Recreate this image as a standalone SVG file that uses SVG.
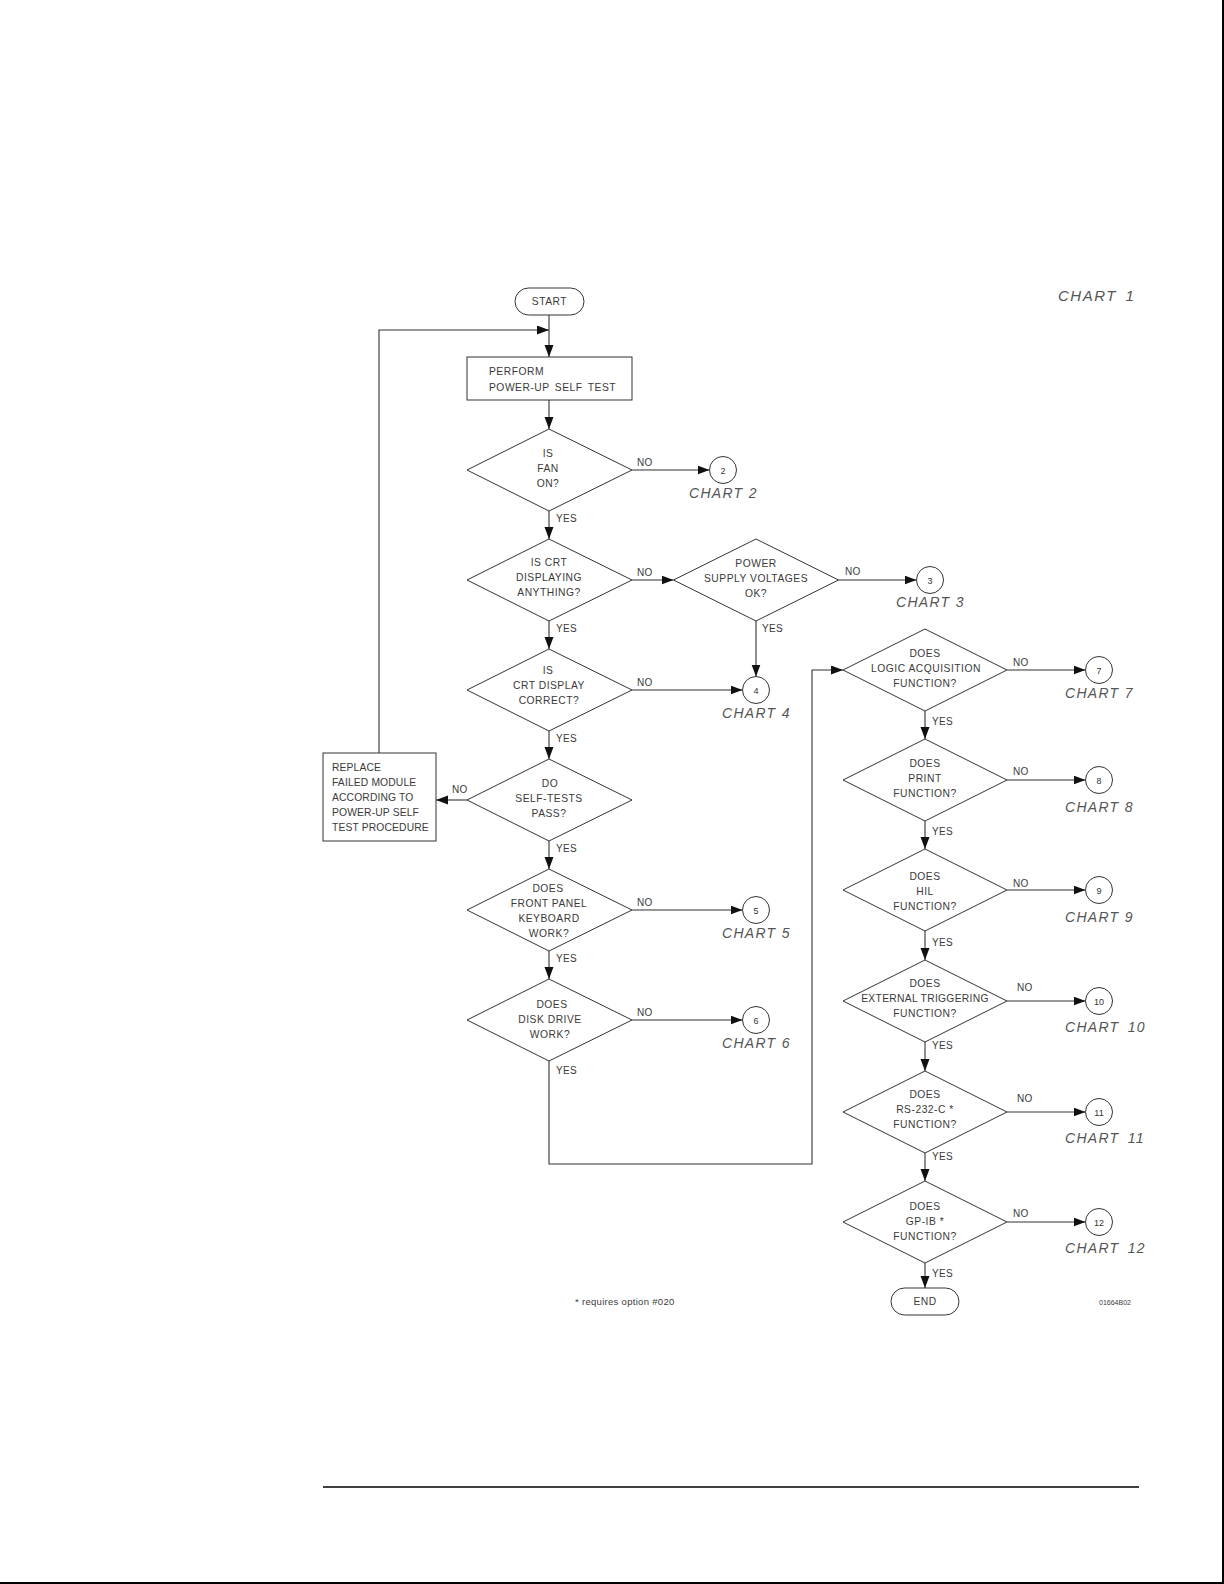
<svg xmlns="http://www.w3.org/2000/svg" width="1224" height="1584" viewBox="0 0 1224 1584">
<style>
.shape{fill:#fff;stroke:#333;stroke-width:1}
.ln{fill:none;stroke:#333;stroke-width:1.1}
.t{font-family:"Liberation Sans",Arial,sans-serif;font-size:10.3px;fill:#3a3a3a;letter-spacing:0.5px}
.c{text-anchor:middle}
.bx{letter-spacing:0.15px}
.lbl{font-family:"Liberation Sans",Arial,sans-serif;font-size:10px;fill:#3a3a3a;letter-spacing:0.3px}
.ch{font-family:"Liberation Sans",Arial,sans-serif;font-size:14px;font-style:italic;fill:#555;letter-spacing:1.3px}
.num{font-family:"Liberation Sans",Arial,sans-serif;font-size:9px;fill:#333;text-anchor:middle}
</style>
<defs>
<marker id="ah" markerUnits="userSpaceOnUse" markerWidth="13" markerHeight="10" refX="12" refY="4.5" orient="auto">
<path d="M0,0 L12,4.5 L0,9 z" fill="#111"/>
</marker>
</defs>
<rect width="1224" height="1584" fill="#fff"/>
<line x1="1223" y1="0" x2="1223" y2="1583" stroke="#000" stroke-width="2"/>
<line x1="0" y1="1583" x2="1224" y2="1583" stroke="#000" stroke-width="2"/>
<line x1="323" y1="1487" x2="1139" y2="1487" stroke="#000" stroke-width="1.5"/>

<g id="connectors">
<path class="ln" d="M549,315 V357" marker-end="url(#ah)"/>
<path class="ln" d="M379,753 V330 H549" marker-end="url(#ah)"/>
<path class="ln" d="M549,400 V429" marker-end="url(#ah)"/>
<path class="ln" d="M632,470 H709.5" marker-end="url(#ah)"/>
<path class="ln" d="M549,511 V539" marker-end="url(#ah)"/>
<path class="ln" d="M632,580 H673.5" marker-end="url(#ah)"/>
<path class="ln" d="M838.5,580 H916.5" marker-end="url(#ah)"/>
<path class="ln" d="M756,621 V676.5" marker-end="url(#ah)"/>
<path class="ln" d="M549,621 V649" marker-end="url(#ah)"/>
<path class="ln" d="M632,690 H742.5" marker-end="url(#ah)"/>
<path class="ln" d="M549,731 V759" marker-end="url(#ah)"/>
<path class="ln" d="M467,800 H436" marker-end="url(#ah)"/>
<path class="ln" d="M549,841 V869" marker-end="url(#ah)"/>
<path class="ln" d="M632,910 H742.5" marker-end="url(#ah)"/>
<path class="ln" d="M549,951 V979" marker-end="url(#ah)"/>
<path class="ln" d="M632,1020 H742.5" marker-end="url(#ah)"/>
<path class="ln" d="M549,1061 V1164 H812 V670 H843" marker-end="url(#ah)"/>
<path class="ln" d="M1007,670 H1085.5" marker-end="url(#ah)"/>
<path class="ln" d="M925,711 V739" marker-end="url(#ah)"/>
<path class="ln" d="M1007,780 H1085.5" marker-end="url(#ah)"/>
<path class="ln" d="M925,821 V849" marker-end="url(#ah)"/>
<path class="ln" d="M1007,890 H1085.5" marker-end="url(#ah)"/>
<path class="ln" d="M925,931 V960" marker-end="url(#ah)"/>
<path class="ln" d="M1007,1001 H1085.5" marker-end="url(#ah)"/>
<path class="ln" d="M925,1042 V1071" marker-end="url(#ah)"/>
<path class="ln" d="M1007,1112 H1085.5" marker-end="url(#ah)"/>
<path class="ln" d="M925,1153 V1181" marker-end="url(#ah)"/>
<path class="ln" d="M1007,1222 H1085.5" marker-end="url(#ah)"/>
<path class="ln" d="M925,1263 V1288" marker-end="url(#ah)"/>
<text class="lbl" x="637" y="466">NO</text>
<text class="lbl" x="556" y="522">YES</text>
<text class="lbl" x="637" y="576">NO</text>
<text class="lbl" x="845" y="575">NO</text>
<text class="lbl" x="762" y="632">YES</text>
<text class="lbl" x="556" y="632">YES</text>
<text class="lbl" x="637" y="686">NO</text>
<text class="lbl" x="556" y="742">YES</text>
<text class="lbl" x="452" y="793">NO</text>
<text class="lbl" x="556" y="852">YES</text>
<text class="lbl" x="637" y="906">NO</text>
<text class="lbl" x="556" y="962">YES</text>
<text class="lbl" x="637" y="1016">NO</text>
<text class="lbl" x="556" y="1074">YES</text>
<text class="lbl" x="1013" y="666">NO</text>
<text class="lbl" x="932" y="725">YES</text>
<text class="lbl" x="1013" y="775">NO</text>
<text class="lbl" x="932" y="835">YES</text>
<text class="lbl" x="1013" y="887">NO</text>
<text class="lbl" x="932" y="946">YES</text>
<text class="lbl" x="1017" y="991">NO</text>
<text class="lbl" x="932" y="1049">YES</text>
<text class="lbl" x="1017" y="1102">NO</text>
<text class="lbl" x="932" y="1160">YES</text>
<text class="lbl" x="1013" y="1217">NO</text>
<text class="lbl" x="932" y="1277">YES</text>
</g>

<g id="start">
<rect class="shape" x="515" y="288" width="69" height="27" rx="13.5"/>
<text class="t c" x="549.5" y="305">START</text>
</g>
<g id="perform">
<rect class="shape" x="467" y="357" width="165" height="43"/>
<text class="t" x="489" y="375">PERFORM</text>
<text class="t" x="489" y="391" word-spacing="2">POWER-UP SELF TEST</text>
</g>
<g id="d-fan">
<polygon class="shape" points="549,429 632,470 549,511 467,470"/>
<text class="t c" x="548" y="457">IS</text>
<text class="t c" x="548" y="472">FAN</text>
<text class="t c" x="548" y="487">ON?</text>
</g>
<g id="c2">
<circle class="shape" cx="723" cy="470" r="13.5"/>
<text class="num" x="723" y="473.5">2</text>
<text class="ch" x="689" y="498">CHART 2</text>
</g>
<g id="d-crt">
<polygon class="shape" points="549,539 632,580 549,621 467,580"/>
<text class="t c" x="549" y="566">IS CRT</text>
<text class="t c" x="549" y="581">DISPLAYING</text>
<text class="t c" x="549" y="596">ANYTHING?</text>
</g>
<g id="d-ps">
<polygon class="shape" points="756,539 838.5,580 756,621 673.5,580"/>
<text class="t c" x="756" y="567">POWER</text>
<text class="t c" x="756" y="582">SUPPLY VOLTAGES</text>
<text class="t c" x="756" y="597">OK?</text>
</g>
<g id="c3">
<circle class="shape" cx="930" cy="580" r="13.5"/>
<text class="num" x="930" y="583.5">3</text>
<text class="ch" x="896" y="607">CHART 3</text>
</g>
<g id="d-correct">
<polygon class="shape" points="549,649 632,690 549,731 467,690"/>
<text class="t c" x="548" y="674">IS</text>
<text class="t c" x="549" y="689">CRT DISPLAY</text>
<text class="t c" x="549" y="704">CORRECT?</text>
</g>
<g id="c4">
<circle class="shape" cx="756" cy="690" r="13.5"/>
<text class="num" x="756" y="693.5">4</text>
<text class="ch" x="722" y="718">CHART 4</text>
</g>
<g id="d-selftest">
<polygon class="shape" points="549,759 632,800 549,841 467,800"/>
<text class="t c" x="550" y="787">DO</text>
<text class="t c" x="549" y="802">SELF-TESTS</text>
<text class="t c" x="549" y="817">PASS?</text>
</g>
<g id="replace">
<rect class="shape" x="323" y="753" width="113" height="88"/>
<text class="t bx" x="332" y="771">REPLACE</text>
<text class="t bx" x="332" y="786">FAILED MODULE</text>
<text class="t bx" x="332" y="801">ACCORDING TO</text>
<text class="t bx" x="332" y="816">POWER-UP SELF</text>
<text class="t bx" x="332" y="831">TEST PROCEDURE</text>
</g>
<g id="d-keyboard">
<polygon class="shape" points="549,869 632,910 549,951 467,910"/>
<text class="t c" x="548" y="892">DOES</text>
<text class="t c" x="549" y="907">FRONT PANEL</text>
<text class="t c" x="549" y="922">KEYBOARD</text>
<text class="t c" x="549" y="937">WORK?</text>
</g>
<g id="c5">
<circle class="shape" cx="756" cy="910" r="13.5"/>
<text class="num" x="756" y="913.5">5</text>
<text class="ch" x="722" y="938">CHART 5</text>
</g>
<g id="d-disk">
<polygon class="shape" points="549,979 632,1020 549,1061 467,1020"/>
<text class="t c" x="552" y="1008">DOES</text>
<text class="t c" x="550" y="1023">DISK DRIVE</text>
<text class="t c" x="550" y="1038">WORK?</text>
</g>
<g id="c6">
<circle class="shape" cx="756" cy="1020" r="13.5"/>
<text class="num" x="756" y="1023.5">6</text>
<text class="ch" x="722" y="1048">CHART 6</text>
</g>
<g id="d-logic">
<polygon class="shape" points="925,629 1007,670 925,711 843,670"/>
<text class="t c" x="925" y="657">DOES</text>
<text class="t c" x="926" y="672">LOGIC ACQUISITION</text>
<text class="t c" x="925" y="687">FUNCTION?</text>
</g>
<g id="c7">
<circle class="shape" cx="1099" cy="670" r="13.5"/>
<text class="num" x="1099" y="673.5">7</text>
<text class="ch" x="1065" y="698">CHART 7</text>
</g>
<g id="d-print">
<polygon class="shape" points="925,739 1007,780 925,821 843,780"/>
<text class="t c" x="925" y="767">DOES</text>
<text class="t c" x="925" y="782">PRINT</text>
<text class="t c" x="925" y="797">FUNCTION?</text>
</g>
<g id="c8">
<circle class="shape" cx="1099" cy="780" r="13.5"/>
<text class="num" x="1099" y="783.5">8</text>
<text class="ch" x="1065" y="812">CHART 8</text>
</g>
<g id="d-hil">
<polygon class="shape" points="925,849 1007,890 925,931 843,890"/>
<text class="t c" x="925" y="880">DOES</text>
<text class="t c" x="925" y="895">HIL</text>
<text class="t c" x="925" y="910">FUNCTION?</text>
</g>
<g id="c9">
<circle class="shape" cx="1099" cy="890" r="13.5"/>
<text class="num" x="1099" y="893.5">9</text>
<text class="ch" x="1065" y="922">CHART 9</text>
</g>
<g id="d-ext">
<polygon class="shape" points="925,960 1007,1001 925,1042 843,1001"/>
<text class="t c" x="925" y="987">DOES</text>
<text class="t c" x="925" y="1002" style="letter-spacing:0.3px">EXTERNAL TRIGGERING</text>
<text class="t c" x="925" y="1017">FUNCTION?</text>
</g>
<g id="c10">
<circle class="shape" cx="1099" cy="1001" r="13.5"/>
<text class="num" x="1099" y="1004.5">10</text>
<text class="ch" x="1065" y="1032" word-spacing="3">CHART 10</text>
</g>
<g id="d-rs232">
<polygon class="shape" points="925,1071 1007,1112 925,1153 843,1112"/>
<text class="t c" x="925" y="1098">DOES</text>
<text class="t c" x="925" y="1113">RS-232-C *</text>
<text class="t c" x="925" y="1128">FUNCTION?</text>
</g>
<g id="c11">
<circle class="shape" cx="1099" cy="1112" r="13.5"/>
<text class="num" x="1099" y="1115.5">11</text>
<text class="ch" x="1065" y="1143" word-spacing="3">CHART 11</text>
</g>
<g id="d-gpib">
<polygon class="shape" points="925,1181 1007,1222 925,1263 843,1222"/>
<text class="t c" x="925" y="1210">DOES</text>
<text class="t c" x="925" y="1225">GP-IB *</text>
<text class="t c" x="925" y="1240">FUNCTION?</text>
</g>
<g id="c12">
<circle class="shape" cx="1099" cy="1222" r="13.5"/>
<text class="num" x="1099" y="1225.5">12</text>
<text class="ch" x="1065" y="1253" word-spacing="3">CHART 12</text>
</g>
<g id="end">
<rect class="shape" x="891" y="1288" width="68" height="27" rx="13.5"/>
<text class="t c" x="925" y="1305">END</text>
</g>
<text class="ch" x="1058" y="301" style="font-size:15px;letter-spacing:1.5px" word-spacing="3">CHART 1</text>
<text class="lbl" x="575" y="1305" style="font-size:9.5px">* requires option #020</text>
<text class="lbl" x="1099" y="1305" style="font-size:7px;letter-spacing:0">01664B02</text>
</svg>
